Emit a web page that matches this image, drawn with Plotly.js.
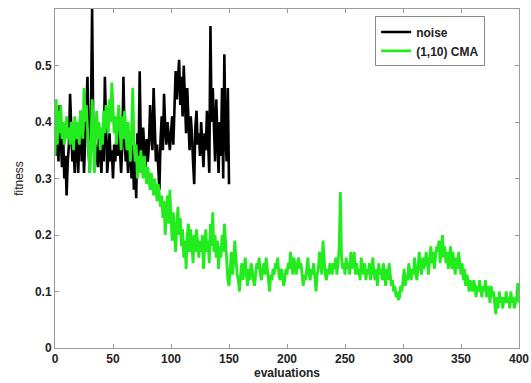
<!DOCTYPE html>
<html>
<head>
<meta charset="utf-8">
<script src="https://cdn.plot.ly/plotly-3.0.1.min.js"></script>
<style>html,body{margin:0;padding:0;background:#fff;}#chart{width:531px;height:383px;}</style>
</head>
<body>
<div id="chart"></div>
<script>
// evaluations 0..150
const noiseFitness = [
0.37,0.34,0.40,0.33,0.43,0.36,0.32,0.38,0.30,0.34,
0.27,0.33,0.36,0.45,0.38,0.33,0.35,0.31,0.40,0.34,
0.31,0.37,0.42,0.33,0.38,0.31,0.36,0.40,0.48,0.35,
0.31,0.42,0.60,0.38,0.33,0.36,0.34,0.32,0.38,0.35,
0.31,0.37,0.33,0.48,0.36,0.31,0.34,0.38,0.33,0.35,
0.30,0.36,0.33,0.38,0.34,0.40,0.35,0.31,0.36,0.48,
0.37,0.33,0.35,0.31,0.38,0.34,0.30,0.36,0.28,0.33,
0.265,0.38,0.32,0.49,0.36,0.33,0.39,0.35,0.31,0.37,
0.33,0.36,0.43,0.38,0.35,0.46,0.39,0.33,0.36,0.31,
0.28,0.37,0.41,0.35,0.45,0.39,0.36,0.40,0.37,0.35,
0.38,0.41,0.36,0.43,0.49,0.44,0.47,0.51,0.43,0.48,
0.41,0.50,0.44,0.38,0.46,0.40,0.35,0.41,0.38,0.33,
0.29,0.39,0.42,0.36,0.38,0.34,0.40,0.36,0.32,0.38,
0.35,0.42,0.36,0.31,0.57,0.40,0.46,0.37,0.33,0.44,
0.36,0.31,0.40,0.34,0.46,0.30,0.52,0.37,0.33,0.46,
0.29
];
// evaluations 0..400
const cmaFitness = [
0.34,0.44,0.36,0.42,0.38,0.43,0.37,0.40,0.36,0.39,
0.41,0.37,0.39,0.36,0.40,0.38,0.35,0.41,0.37,0.40,
0.38,0.36,0.42,0.39,0.37,0.46,0.40,0.43,0.38,0.33,
0.31,0.36,0.44,0.40,0.31,0.38,0.42,0.37,0.40,0.35,
0.39,0.36,0.42,0.38,0.43,0.41,0.38,0.44,0.40,0.47,
0.42,0.38,0.41,0.36,0.40,0.43,0.39,0.35,0.41,0.37,
0.42,0.38,0.35,0.40,0.36,0.33,0.38,0.46,0.37,0.33,
0.36,0.30,0.34,0.31,0.35,0.32,0.30,0.34,0.31,0.29,
0.32,0.30,0.28,0.31,0.29,0.27,0.30,0.28,0.26,0.29,
0.27,0.25,0.27,0.23,0.26,0.20,0.24,0.27,0.22,0.28,
0.23,0.19,0.24,0.21,0.17,0.22,0.25,0.20,0.23,0.18,
0.21,0.16,0.19,0.14,0.20,0.22,0.17,0.21,0.18,0.15,
0.20,0.17,0.21,0.18,0.16,0.19,0.17,0.20,0.14,0.18,
0.21,0.17,0.19,0.15,0.22,0.18,0.24,0.17,0.20,0.16,
0.19,0.14,0.18,0.16,0.20,0.17,0.22,0.19,0.15,0.12,
0.11,0.14,0.17,0.13,0.15,0.19,0.15,0.13,0.12,0.10,
0.13,0.15,0.12,0.14,0.16,0.13,0.11,0.14,0.12,0.15,
0.14,0.12,0.11,0.13,0.15,0.14,0.16,0.13,0.12,0.14,
0.15,0.13,0.16,0.14,0.12,0.10,0.13,0.12,0.14,0.13,
0.15,0.14,0.16,0.13,0.12,0.14,0.13,0.11,0.12,0.14,
0.13,0.15,0.14,0.17,0.15,0.13,0.16,0.14,0.13,0.15,
0.16,0.14,0.15,0.13,0.11,0.13,0.12,0.14,0.16,0.13,
0.12,0.14,0.13,0.15,0.12,0.10,0.13,0.14,0.17,0.15,
0.13,0.19,0.15,0.13,0.12,0.14,0.13,0.15,0.14,0.13,
0.15,0.14,0.16,0.13,0.15,0.18,0.276,0.16,0.14,0.15,
0.13,0.16,0.14,0.15,0.13,0.17,0.14,0.16,0.17,0.13,
0.15,0.13,0.14,0.12,0.16,0.14,0.13,0.15,0.12,0.14,
0.13,0.15,0.12,0.14,0.16,0.13,0.12,0.14,0.11,0.15,
0.13,0.14,0.12,0.15,0.13,0.11,0.14,0.12,0.15,0.13,
0.11,0.12,0.10,0.11,0.09,0.10,0.085,0.09,0.11,0.10,
0.12,0.14,0.11,0.13,0.12,0.15,0.13,0.12,0.14,0.13,
0.16,0.13,0.12,0.15,0.17,0.14,0.13,0.16,0.14,0.15,
0.17,0.15,0.13,0.16,0.18,0.15,0.17,0.14,0.16,0.18,
0.17,0.19,0.15,0.17,0.20,0.16,0.18,0.15,0.17,0.14,
0.16,0.18,0.14,0.17,0.15,0.13,0.16,0.14,0.17,0.15,
0.13,0.15,0.12,0.14,0.11,0.13,0.12,0.10,0.12,0.11,
0.10,0.12,0.11,0.09,0.11,0.10,0.12,0.10,0.09,0.11,
0.10,0.12,0.09,0.11,0.10,0.08,0.11,0.09,0.10,0.08,
0.06,0.09,0.07,0.10,0.08,0.09,0.07,0.09,0.08,0.10,
0.08,0.09,0.07,0.10,0.08,0.09,0.07,0.08,0.09,0.115,
0.08
];
const seriesNames = ["noise", "(1,10) CMA"];
const xTicks = [0, 50, 100, 150, 200, 250, 300, 350, 400];
const yTicks = [0, 0.1, 0.2, 0.3, 0.4, 0.5];
const yTickText = ["0", "0.1", "0.2", "0.3", "0.4", "0.5"];

const noiseX = noiseFitness.map((_, i) => i);
const cmaX = cmaFitness.map((_, i) => i);

const fontFam = "Liberation Sans, Arial, sans-serif";
const traces = [
  {x: noiseX, y: noiseFitness, name: seriesNames[0], type: "scatter", mode: "lines",
   line: {color: "#000000", width: 2.6}},
  {x: cmaX, y: cmaFitness, name: seriesNames[1], type: "scatter", mode: "lines",
   line: {color: "#22ec1e", width: 2.8}}
];
const axisCommon = {
  showline: true, mirror: "ticks", linecolor: "#9a9a9a", linewidth: 1,
  ticks: "inside", ticklen: 4, tickcolor: "#9a9a9a",
  showgrid: false, zeroline: false,
  tickfont: {family: fontFam, size: 12, color: "#222", weight: "bold"}
};
const layout = {
  width: 531, height: 383,
  margin: {l: 55, r: 12, t: 9, b: 35},
  paper_bgcolor: "#fff", plot_bgcolor: "#fff",
  showlegend: true,
  xaxis: Object.assign({}, axisCommon, {
    range: [0, 400], tickvals: xTicks,
    title: {text: "evaluations", standoff: 2, font: {family: fontFam, size: 12, color: "#222", weight: "bold"}}
  }),
  yaxis: Object.assign({}, axisCommon, {
    range: [0, 0.6], tickvals: yTicks, ticktext: yTickText,
    title: {text: "fitness", standoff: 8, font: {family: fontFam, size: 12, color: "#222"}}
  }),
  legend: {
    x: 0.69, y: 0.978, xanchor: "left", yanchor: "top",
    bgcolor: "#fff", bordercolor: "#888", borderwidth: 1,
    font: {family: fontFam, size: 12, color: "#222", weight: "bold"},
    tracegroupgap: 0
  }
};
Plotly.newPlot("chart", traces, layout, {staticPlot: true, displayModeBar: false});
</script>
</body>
</html>
